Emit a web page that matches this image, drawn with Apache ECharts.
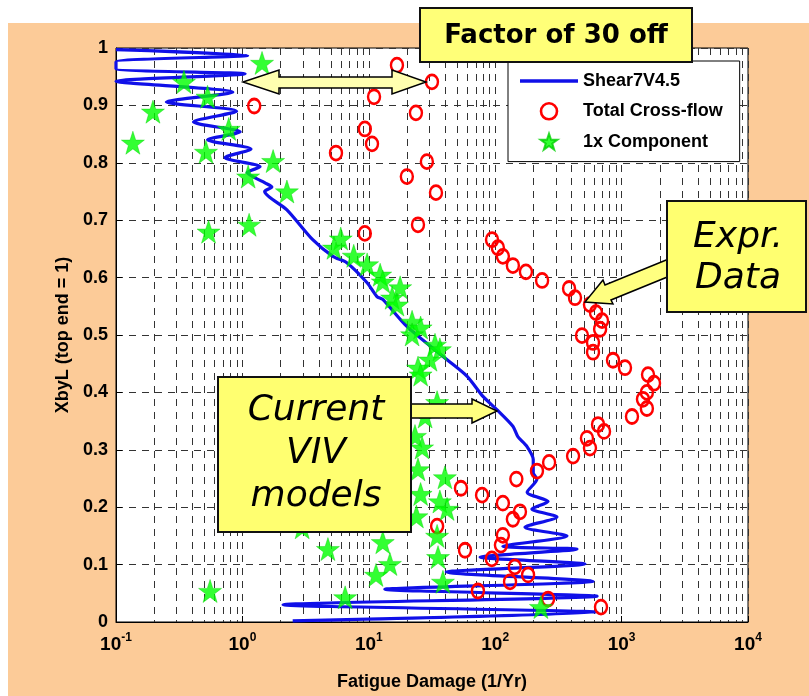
<!DOCTYPE html>
<html>
<head>
<meta charset="utf-8">
<script src="https://cdn.jsdelivr.net/npm/echarts@6/dist/echarts.min.js"></script>
<style>
  html, body { margin: 0; padding: 0; background: #fff; }
  #chart { width: 809px; height: 696px; }
</style>
</head>
<body>
<div id="chart"></div>
<script>
// Shear7V4.5 prediction, traced from the top of the riser downwards [damage, XbyL]
const shearX = [0.1, 1.1, 0.1, 0.1, 1.05, 0.1, 0.84, 0.25, 0.9, 0.41, 0.96, 0.53, 1.17, 0.73, 1.38, 1.09,
  1.51, 1.71, 1.5, 2.25, 3.6, 5.2, 6.7, 9.7, 11.6, 12.9, 20, 41.6, 60, 80, 103, 138, 151, 178, 200, 200,
  214, 179, 262, 195, 308, 172, 370, 115, 444, 76, 513, 41, 594, 13.4, 640, 2.1, 640, 2.5];
const shearY = [0.997, 0.987, 0.976, 0.964, 0.955, 0.942, 0.923, 0.906, 0.89, 0.871, 0.854, 0.84, 0.824, 0.809, 0.793, 0.783,
  0.765, 0.758, 0.75, 0.718, 0.666, 0.637, 0.626, 0.591, 0.567, 0.562, 0.515, 0.457, 0.428, 0.393, 0.37, 0.341, 0.323, 0.306, 0.283, 0.26,
  0.249, 0.226, 0.21, 0.197, 0.183, 0.165, 0.15, 0.132, 0.127, 0.113, 0.101, 0.087, 0.071, 0.057, 0.045, 0.03, 0.017, 0.002];

// Total Cross-flow (experiment)
const crossX = [16.7, 31.6, 11.0, 1.24, 23.6, 9.3, 10.6, 5.5, 28.8, 20, 34, 24.5, 9.3, 94.4, 105, 115, 138, 175, 235,
  384, 428, 562, 627, 700, 676, 486, 594, 594, 855, 1064, 1618, 1805, 1585, 1476, 1585, 1208, 651, 726, 532, 562,
  413, 267, 214, 147, 53.6, 78.7, 115, 157, 138, 34.7, 115, 111, 57.7, 94, 143, 182, 131, 73, 262, 687];
const crossY = [0.970, 0.941, 0.915, 0.899, 0.887, 0.859, 0.833, 0.817, 0.802, 0.776, 0.748, 0.692, 0.677, 0.666, 0.652, 0.637, 0.621, 0.61, 0.595,
  0.581, 0.565, 0.553, 0.539, 0.525, 0.51, 0.499, 0.487, 0.47, 0.456, 0.443, 0.431, 0.416, 0.4, 0.388, 0.372, 0.358, 0.344, 0.332, 0.32, 0.303,
  0.289, 0.278, 0.263, 0.249, 0.233, 0.221, 0.207, 0.192, 0.179, 0.167, 0.151, 0.134, 0.125, 0.11, 0.096, 0.082, 0.07, 0.054, 0.04, 0.026];

// 1x Component (experiment)
const compX = [1.43, 0.345, 0.53, 0.196, 0.78, 0.136, 0.515, 1.75, 1.11, 2.25, 1.13, 0.54, 6.0, 5.3, 7.6, 9.7, 12.3, 12.9,
  17.7, 15.3, 16.7, 22, 25.7, 22, 33.4, 36.5, 30.5, 24.5, 25.7, 34.7, 27.9, 23.2, 26.4, 24.5, 40, 25.7, 36.5, 41.6,
  23.8, 34.7, 12.9, 2.97, 4.75, 35.3, 14.7, 11.4, 38.6, 6.5, 0.555, 230];
const compY = [0.974, 0.941, 0.915, 0.889, 0.859, 0.835, 0.819, 0.803, 0.776, 0.75, 0.692, 0.68, 0.668, 0.652, 0.638, 0.623, 0.605, 0.593,
  0.583, 0.565, 0.553, 0.523, 0.513, 0.501, 0.483, 0.475, 0.457, 0.443, 0.431, 0.383, 0.358, 0.324, 0.304, 0.266, 0.252, 0.223, 0.21, 0.197,
  0.184, 0.15, 0.139, 0.165, 0.127, 0.113, 0.101, 0.082, 0.07, 0.043, 0.054, 0.026];

const seriesNames = ["Shear7V4.5", "Total Cross-flow", "1x Component"];
const decades = [0.1, 1, 10, 100, 1000];
const minorSteps = [2, 3, 4, 5, 6, 7, 8, 9];

const pair = (xs, ys) => xs.map((x, i) => [x, ys[i]]);

// minor log grid positions (2..9 of every decade)
const minorGrid = [];
decades.forEach(d => minorSteps.forEach(m => minorGrid.push([d * m, 0])));

const star = "path://M50,0 L61.8,35.1 L98.1,35.1 L68.8,56.7 L79.4,91 L50,70 L20.6,91 L31.2,56.7 L1.9,35.1 L38.2,35.1 Z";
const lineIcon = "path://M0,0 H100 V6 H0 Z";
const axisFont = "Liberation Sans";
const boxFont = "DejaVu Sans";
const gridDash = { color: "#333", width: 1, type: [7, 6] };

const chart = echarts.init(document.getElementById("chart"));

chart.setOption({
  backgroundColor: "#fff",
  animation: false,
  grid: {
    left: 116, top: 48, right: 61, bottom: 73,
    show: true, backgroundColor: "#fff", borderColor: "#000", borderWidth: 1
  },
  legend: {
    data: [
      { name: seriesNames[0], icon: lineIcon, itemStyle: { color: "#1010e8" } },
      { name: seriesNames[1], itemStyle: { color: "rgba(255,255,255,0)", borderColor: "#ff0000", borderWidth: 2.6 } },
      { name: seriesNames[2] }
    ],
    orient: "vertical",
    left: 508, top: 61,
    itemWidth: 58, itemHeight: 16, itemGap: 12,
    padding: [11, 17, 11, 12],
    backgroundColor: "#fff", borderColor: "#000", borderWidth: 1,
    textStyle: { fontFamily: axisFont, fontWeight: "bold", fontSize: 18, color: "#000" },
    selectedMode: false
  },
  xAxis: {
    type: "log", logBase: 10, min: 0.1, max: 10000, splitNumber: 5,
    name: "Fatigue Damage (1/Yr)", nameLocation: "middle", nameGap: 51,
    nameTextStyle: { fontFamily: axisFont, fontWeight: "bold", fontSize: 18, color: "#000" },
    axisLine: { show: true, lineStyle: { color: "#000", width: 1 } },
    axisTick: { show: true, inside: true, length: 6, lineStyle: { color: "#000" } },
    axisLabel: {
      margin: 10,
      formatter: v => "{b|10}{s|" + Math.round(Math.log10(v)) + "}",
      rich: {
        b: { fontFamily: axisFont, fontWeight: "bold", fontSize: 19, color: "#000", verticalAlign: "bottom" },
        s: { fontFamily: axisFont, fontWeight: "bold", fontSize: 12, color: "#000", verticalAlign: "bottom", padding: [0, 0, 10, 0] }
      }
    },
    splitLine: { show: true, lineStyle: gridDash }
  },
  yAxis: {
    type: "value", min: 0, max: 1, interval: 0.1,
    name: "XbyL (top end = 1)", nameLocation: "middle", nameGap: 44, nameRotate: 90,
    nameTextStyle: { fontFamily: axisFont, fontWeight: "bold", fontSize: 18, color: "#000" },
    axisLine: { show: true, lineStyle: { color: "#000", width: 1 } },
    axisTick: { show: true, inside: true, length: 6, lineStyle: { color: "#000" } },
    axisLabel: { margin: 8, fontFamily: axisFont, fontWeight: "bold", fontSize: 18, color: "#000" },
    splitLine: { show: true, lineStyle: gridDash }
  },
  series: [
    {
      name: "minor grid",
      type: "custom",
      silent: true,
      z: 1,
      data: minorGrid,
      renderItem: (params, api) => {
        const top = api.coord([api.value(0), 1]);
        const bottom = api.coord([api.value(0), 0]);
        const x = Math.round(top[0]) + 0.5;
        return {
          type: "line",
          shape: { x1: x, y1: top[1], x2: x, y2: bottom[1] },
          style: { stroke: "#333", lineWidth: 1, lineDash: [7, 6] }
        };
      }
    },
    {
      name: seriesNames[0],
      type: "line",
      z: 3,
      symbol: "none",
      smooth: 0.25,
      clip: true,
      lineStyle: { color: "#1010e8", width: 3.2 },
      itemStyle: { color: "#1010e8" },
      data: pair(shearX, shearY)
    },
    {
      name: seriesNames[1],
      type: "scatter",
      z: 4,
      symbol: "circle",
      symbolSize: [12, 14],
      itemStyle: { color: "rgba(255,255,255,0)", borderColor: "#ff0000", borderWidth: 2.6, opacity: 1 },
      data: pair(crossX, crossY)
    },
    {
      name: seriesNames[2],
      type: "scatter",
      z: 5,
      symbol: star,
      symbolSize: 23,
      itemStyle: { color: "#00ff00", borderColor: "#00d000", borderWidth: 0.5 },
      data: pair(compX, compY)
    }
  ],
  graphic: [
    // outer peach panel
    { type: "rect", z: -10, silent: true, shape: { x: 8, y: 23, width: 801, height: 673 }, style: { fill: "#fccb98" } },

    // arrows
    {
      type: "polygon", z: 100,
      shape: { points: [[243, 82], [279, 70], [279, 77], [392, 77], [392, 70], [426, 82], [392, 94], [392, 88], [279, 88], [279, 94]] },
      style: { fill: "#ffffb0", stroke: "#000", lineWidth: 1.5 }
    },
    {
      type: "polygon", z: 100,
      shape: { points: [[400, 404], [472, 404], [472, 399], [497, 411], [472, 423], [472, 418], [400, 418]] },
      style: { fill: "#ffff80", stroke: "#000", lineWidth: 1.5 }
    },
    {
      type: "polygon", z: 100,
      shape: { points: [[676, 256], [605, 285], [603, 280], [585, 302], [613, 304], [611, 300], [682, 271]] },
      style: { fill: "#ffff80", stroke: "#000", lineWidth: 1.5 }
    },

    // boxes
    { type: "rect", z: 110, shape: { x: 420, y: 8, width: 272, height: 54 }, style: { fill: "#ffff78", stroke: "#111", lineWidth: 2 } },
    {
      type: "text", z: 111, x: 556, y: 36,
      style: { text: "Factor of 30 off", fontFamily: boxFont, fontWeight: "bold", fontSize: 26, fill: "#000", align: "center", verticalAlign: "middle" }
    },
    { type: "rect", z: 110, shape: { x: 667, y: 201, width: 139, height: 111 }, style: { fill: "#ffff70", stroke: "#111", lineWidth: 2 } },
    {
      type: "text", z: 111, x: 738, y: 258,
      style: { text: "Expr.\nData", fontFamily: boxFont, fontStyle: "italic", fontSize: 36, lineHeight: 41, fill: "#000", align: "center", verticalAlign: "middle" }
    },
    { type: "rect", z: 110, shape: { x: 218, y: 377, width: 193, height: 155 }, style: { fill: "#ffff70", stroke: "#111", lineWidth: 2 } },
    {
      type: "text", z: 111, x: 316, y: 454,
      style: { text: "Current\nVIV\nmodels", fontFamily: boxFont, fontStyle: "italic", fontSize: 36, lineHeight: 43, fill: "#000", align: "center", verticalAlign: "middle" }
    }
  ]
});
</script>
</body>
</html>
